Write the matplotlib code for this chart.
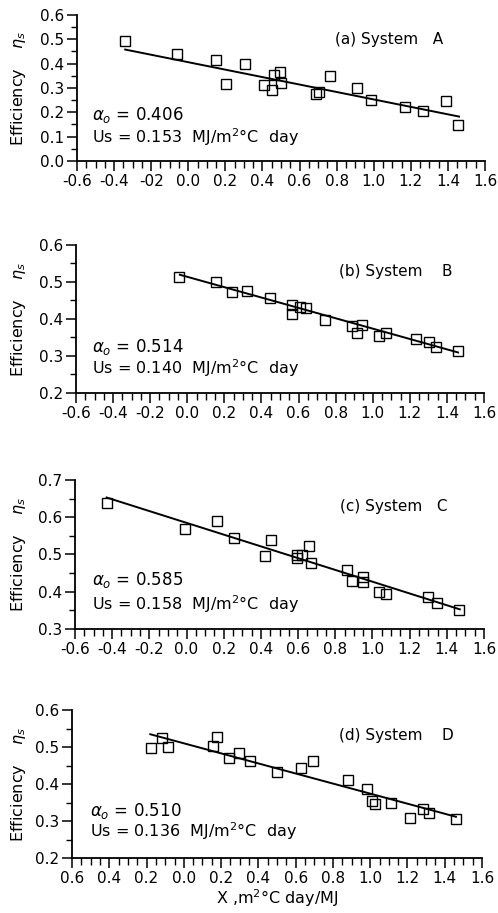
import matplotlib
matplotlib.use("Agg")
import matplotlib.pyplot as plt
import numpy as np
from matplotlib.ticker import MultipleLocator, FixedLocator

plt.rcParams['font.family'] = ['DejaVu Sans']
plt.rcParams['mathtext.fontset'] = 'dejavusans'

# ---------------- data ----------------
xA = [-0.339, -0.062, 0.151, 0.204, 0.308, 0.406, 0.451, 0.460, 0.496, 0.499,
      0.689, 0.707, 0.766, 0.910, 0.984, 1.166, 1.268, 1.389, 1.455]
yA = [0.495, 0.440, 0.415, 0.318, 0.398, 0.312, 0.292, 0.355, 0.365, 0.322,
      0.275, 0.282, 0.350, 0.300, 0.252, 0.223, 0.205, 0.247, 0.147]

xB = [-0.042, 0.155, 0.239, 0.321, 0.445, 0.566, 0.563, 0.608, 0.642, 0.745,
      0.888, 0.917, 0.944, 1.035, 1.071, 1.234, 1.302, 1.341, 1.461]
yB = [0.513, 0.501, 0.473, 0.475, 0.456, 0.438, 0.414, 0.432, 0.431, 0.397,
      0.382, 0.363, 0.384, 0.354, 0.361, 0.346, 0.337, 0.323, 0.314]

xC = [-0.426, -0.011, 0.162, 0.257, 0.455, 0.420, 0.595, 0.595, 0.622, 0.661,
      0.672, 0.862, 0.888, 0.947, 0.951, 1.033, 1.073, 1.300, 1.346, 1.468]
yC = [0.637, 0.569, 0.589, 0.543, 0.539, 0.495, 0.490, 0.500, 0.498, 0.523,
      0.476, 0.459, 0.429, 0.440, 0.427, 0.398, 0.394, 0.386, 0.371, 0.351]

xD = [-0.174, -0.117, -0.084, 0.156, 0.178, 0.242, 0.294, 0.353, 0.501, 0.627,
      0.692, 0.879, 0.983, 1.009, 1.025, 1.111, 1.213, 1.286, 1.318, 1.459]
yD = [0.498, 0.523, 0.499, 0.504, 0.526, 0.469, 0.483, 0.461, 0.433, 0.442,
      0.463, 0.411, 0.387, 0.355, 0.345, 0.350, 0.309, 0.332, 0.322, 0.305]

alpha0 = [0.406, 0.514, 0.585, 0.510]
Us = [0.153, 0.140, 0.158, 0.136]
line_range = [(-0.34, 1.46), (-0.04, 1.46), (-0.43, 1.47), (-0.18, 1.46)]
titles = ["(a) System   A", "(b) System    B", "(c) System   C", "(d) System    D"]
ylims = [(0.0, 0.6), (0.2, 0.6), (0.3, 0.7), (0.2, 0.6)]
xtick_vals = [-0.6, -0.4, -0.2, 0.0, 0.2, 0.4, 0.6, 0.8, 1.0, 1.2, 1.4, 1.6]
xlabels_A = ["-0.6", "-0.4", "-02", "0.0", "0.2", "0.4", "0.6", "0.8", "1.0", "1.2", "1.4", "1.6"]
xlabels_BC = ["-0.6", "-0.4", "-0.2", "0.0", "0.2", "0.4", "0.6", "0.8", "1.0", "1.2", "1.4", "1.6"]
xlabels_D = ["0.6", "0.4", "0.2", "0.0", "0.2", "0.4", "0.6", "0.8", "1.0", "1.2", "1.4", "1.6"]
xlabel_sets = [xlabels_A, xlabels_BC, xlabels_BC, xlabels_D]

xs = [xA, xB, xC, xD]
ys = [yA, yB, yC, yD]

# axes boxes in pixels (left, right, bottom, top) measured from top of image
W, H = 498, 913
boxes = [(77, 485, 161, 15), (76, 484, 393, 245), (75, 484, 629, 480), (72, 482, 858, 710)]
# text positions in axes fraction
title_pos = [(0.632, 0.83), (0.644, 0.82), (0.647, 0.82), (0.65, 0.83)]
alpha_pos = [(0.037, 0.315), (0.039, 0.31), (0.041, 0.33), (0.044, 0.32)]
us_pos = [(0.037, 0.164), (0.039, 0.17), (0.041, 0.17), (0.044, 0.18)]

fig = plt.figure(figsize=(W / 100, H / 100), dpi=100)

FS = 11
for i in range(4):
    l, r, b, t = boxes[i]
    ax = fig.add_axes([l / W, 1 - b / H, (r - l) / W, (b - t) / H])
    ax.plot(xs[i], ys[i], 's', mfc='none', mec='black', ms=6.5, mew=1.0, linestyle='none')
    lx = np.array(line_range[i])
    ax.plot(lx, alpha0[i] - Us[i] * lx, color='black', lw=1.4)
    ax.set_xlim(-0.6, 1.6)
    ax.set_ylim(*ylims[i])
    ax.spines['top'].set_visible(False)
    ax.spines['right'].set_visible(False)
    ax.spines['left'].set_linewidth(1.3)
    ax.spines['bottom'].set_linewidth(1.3)
    ax.xaxis.set_major_locator(FixedLocator(xtick_vals))
    ax.set_xticklabels(xlabel_sets[i], fontsize=FS)
    ax.xaxis.set_minor_locator(MultipleLocator(0.05))
    ax.yaxis.set_major_locator(MultipleLocator(0.1))
    ax.yaxis.set_minor_locator(MultipleLocator(0.05))
    ax.set_yticklabels([f"{v:.1f}" for v in ax.get_yticks()], fontsize=FS)
    ax.tick_params(axis='x', which='major', direction='out', length=7, width=1.1, pad=2)
    ax.tick_params(axis='x', which='minor', direction='out', length=5, width=1.0)
    ax.tick_params(axis='y', which='major', direction='out', length=7, width=1.1, pad=2)
    ax.tick_params(axis='y', which='minor', direction='out', length=4, width=1.0)
    ax.set_ylabel("Efficiency    $\\eta_s$", fontsize=11.5)
    ax.yaxis.set_label_coords(-(l - 28) / (r - l), 0.5)
    ax.text(*title_pos[i], titles[i], transform=ax.transAxes, fontsize=FS,
            ha='left', va='center')
    ax.text(*alpha_pos[i], "$\\alpha_o$ = %.3f" % alpha0[i], transform=ax.transAxes,
            fontsize=12, ha='left', va='center')
    ax.text(*us_pos[i], "Us = %.3f  MJ/m$^2$°C  day" % Us[i], transform=ax.transAxes,
            fontsize=11.5, ha='left', va='center')
    if i == 3:
        ax.set_xlabel("X ,m$^2$°C day/MJ", fontsize=11.5, labelpad=1)

fig.savefig("out.png", dpi=100)
